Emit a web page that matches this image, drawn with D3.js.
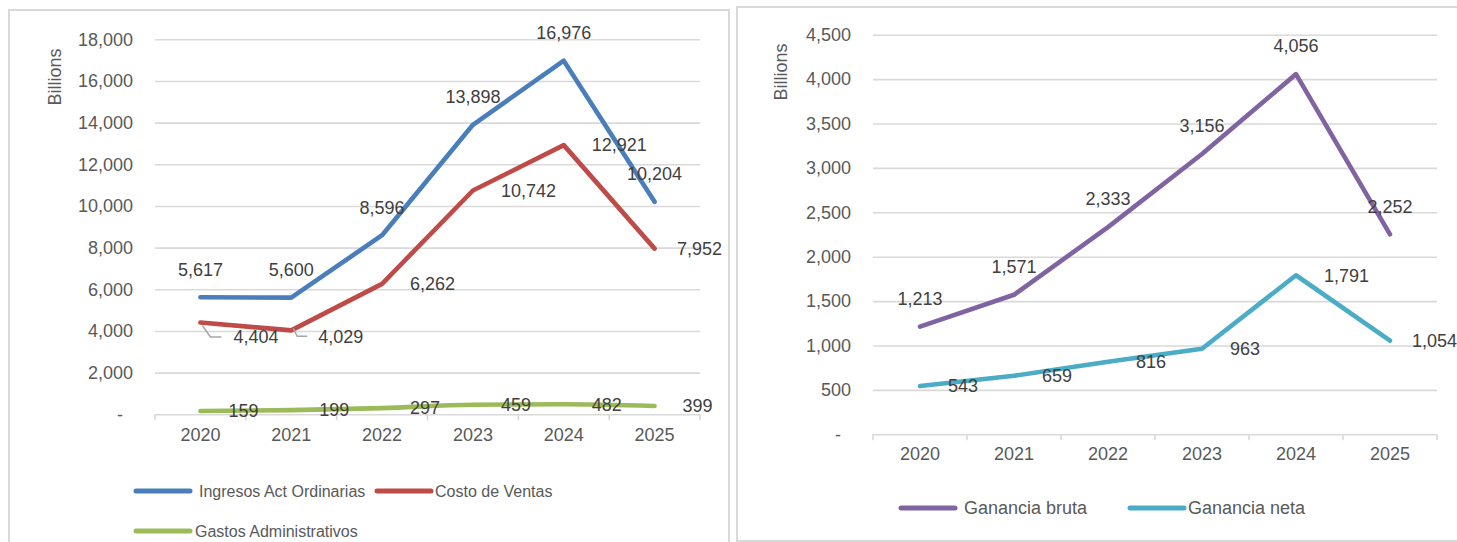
<!DOCTYPE html>
<html>
<head>
<meta charset="utf-8">
<script src="https://cdn.jsdelivr.net/npm/d3@7"></script>
<style>
  body { margin: 0; background: #fff; }
  svg { font-family: "Liberation Sans", Arial, sans-serif; }
</style>
</head>
<body>
<svg width="1457" height="542"></svg>
<script>
// data
var years = ["2020", "2021", "2022", "2023", "2024", "2025"];

var ingresos = [5617, 5600, 8596, 13898, 16976, 10204];
var costoVentas = [4404, 4029, 6262, 10742, 12921, 7952];
var gastosAdmin = [159, 199, 297, 459, 482, 399];

var gananciaBruta = [1213, 1571, 2333, 3156, 4056, 2252];
var gananciaNeta = [543, 659, 816, 963, 1791, 1054];

var leftTicks = [0, 2000, 4000, 6000, 8000, 10000, 12000, 14000, 16000, 18000];
var rightTicks = [0, 500, 1000, 1500, 2000, 2500, 3000, 3500, 4000, 4500];

var svg = d3.select("svg");
var fmt = d3.format(",");

// panel frames
svg.append("rect").attr("x", 9).attr("y", 10).attr("width", 720).attr("height", 545)
  .attr("fill", "none").attr("stroke", "#d9d9d9").attr("stroke-width", 2);
svg.append("rect").attr("x", 737).attr("y", 7).attr("width", 740).attr("height", 534)
  .attr("fill", "none").attr("stroke", "#d9d9d9").attr("stroke-width", 2);

function drawChart(c) {
  var g = svg.append("g");

  var x = d3.scaleBand().domain(years).range([c.left, c.right]);
  var y = d3.scaleLinear().domain([0, c.max]).range([c.bottom, c.top]);

  // y axis + gridlines
  var yAxis = g.append("g")
    .attr("transform", "translate(" + c.left + ",0)")
    .call(d3.axisLeft(y)
      .tickValues(c.ticks)
      .tickSize(-(c.right - c.left))
      .tickPadding(c.left - c.labelEnd)
      .tickFormat(function(d) { return d === 0 ? "-" : fmt(d); }));
  yAxis.select(".domain").remove();
  yAxis.selectAll("line").attr("stroke", "#d9d9d9").attr("stroke-width", 1.6);
  yAxis.selectAll("text")
    .attr("fill", "#595959").style("font-size", "18px")
    .attr("dx", function(d) { return d === 0 ? -10 : 0; });

  // category tick marks between bands
  g.selectAll(".cattick")
    .data(d3.range(years.length + 1))
    .enter().append("line")
      .attr("x1", function(i) { return c.left + i * x.step(); })
      .attr("x2", function(i) { return c.left + i * x.step(); })
      .attr("y1", c.bottom)
      .attr("y2", c.bottom + 6)
      .attr("stroke", "#d9d9d9").attr("stroke-width", 1.6);

  // x labels
  var xAxis = g.append("g")
    .attr("transform", "translate(0," + c.bottom + ")")
    .call(d3.axisBottom(x).tickSize(0).tickPadding(c.xLabelPad));
  xAxis.select(".domain").remove();
  xAxis.selectAll("text").attr("fill", "#595959").style("font-size", "18px");

  // Billions
  g.append("text")
    .attr("transform", "translate(" + c.unitX + "," + c.unitY + ") rotate(-90)")
    .attr("text-anchor", "middle").attr("dy", "0.35em")
    .attr("fill", "#595959").style("font-size", "18px")
    .text("Billions");

  // lines
  c.series.forEach(function(s) {
    var line = d3.line()
      .x(function(d, i) { return x(years[i]) + x.bandwidth() / 2; })
      .y(function(d) { return y(d); })
      .curve(s.smooth ? d3.curveMonotoneX : d3.curveLinear);
    g.append("path")
      .datum(s.values)
      .attr("d", line)
      .attr("fill", "none")
      .attr("stroke", s.color)
      .attr("stroke-width", 4.6)
      .attr("stroke-linecap", "round")
      .attr("stroke-linejoin", "round");
  });

  // data labels
  c.series.forEach(function(s) {
    s.values.forEach(function(v, i) {
      var px = x(years[i]) + x.bandwidth() / 2, py = y(v);
      var lead = s.leaders && s.leaders[i];
      var t = g.append("text")
        .attr("fill", "#404040").style("font-size", "18px")
        .attr("dy", "0.35em")
        .text(fmt(v));
      if (lead) {
        t.attr("x", px + lead.dx).attr("y", py + lead.dy).attr("text-anchor", "start");
        g.append("polyline")
          .attr("points", lead.path.map(function(p) { return (px + p[0]) + "," + (py + p[1]); }).join(" "))
          .attr("fill", "none").attr("stroke", "#a6a6a6").attr("stroke-width", 1.5);
      } else if (s.label === "above") {
        t.attr("x", px).attr("y", py - 28).attr("text-anchor", "middle");
      } else {
        t.attr("x", px + 28).attr("y", py).attr("text-anchor", "start");
        var w = t.node().getComputedTextLength();
        if (px + 28 + w > c.labelLimit) t.attr("x", c.labelLimit - w);
      }
    });
  });

  // legend
  c.legend.forEach(function(l) {
    g.append("line")
      .attr("x1", l.x).attr("x2", l.x + 54)
      .attr("y1", l.y).attr("y2", l.y)
      .attr("stroke", l.color).attr("stroke-width", 5).attr("stroke-linecap", "round");
    g.append("text")
      .attr("x", l.tx).attr("y", l.y).attr("dy", "0.35em")
      .attr("fill", "#595959").style("font-size", c.legendSize)
      .text(l.name);
  });
}

drawChart({
  left: 155, right: 700, top: 39.3, bottom: 414.3, max: 18000,
  ticks: leftTicks, labelEnd: 133, xLabelPad: 14, unitX: 55, unitY: 77,
  labelLimit: 722, legendSize: "16px",
  series: [
    { name: "Ingresos Act Ordinarias", values: ingresos, color: "#4a7ebb", label: "above" },
    { name: "Costo de Ventas", values: costoVentas, color: "#be4b48", label: "right",
      leaders: [
        { dx: 33, dy: 14.5, path: [[2, 3], [10, 14.5], [21, 14.5]] },
        { dx: 27, dy: 6.6, path: [[2, -2], [6, 6], [16, 6]] }
      ] },
    { name: "Gastos Administrativos", values: gastosAdmin, color: "#9bbb59", label: "right", smooth: true }
  ],
  legend: [
    { name: "Ingresos Act Ordinarias", color: "#4a7ebb", x: 136, tx: 199, y: 491 },
    { name: "Costo de Ventas", color: "#be4b48", x: 377, tx: 435, y: 491 },
    { name: "Gastos Administrativos", color: "#9bbb59", x: 136, tx: 195, y: 531 }
  ]
});

drawChart({
  left: 873, right: 1437, top: 34.7, bottom: 434.3, max: 4500,
  ticks: rightTicks, labelEnd: 851, xLabelPad: 13, unitX: 781, unitY: 72,
  labelLimit: 1457, legendSize: "18px",
  series: [
    { name: "Ganancia bruta", values: gananciaBruta, color: "#8064a2", label: "above" },
    { name: "Ganancia neta", values: gananciaNeta, color: "#4bacc6", label: "right" }
  ],
  legend: [
    { name: "Ganancia bruta", color: "#8064a2", x: 901, tx: 964, y: 508 },
    { name: "Ganancia neta", color: "#4bacc6", x: 1130, tx: 1188, y: 508 }
  ]
});
</script>
</body>
</html>
